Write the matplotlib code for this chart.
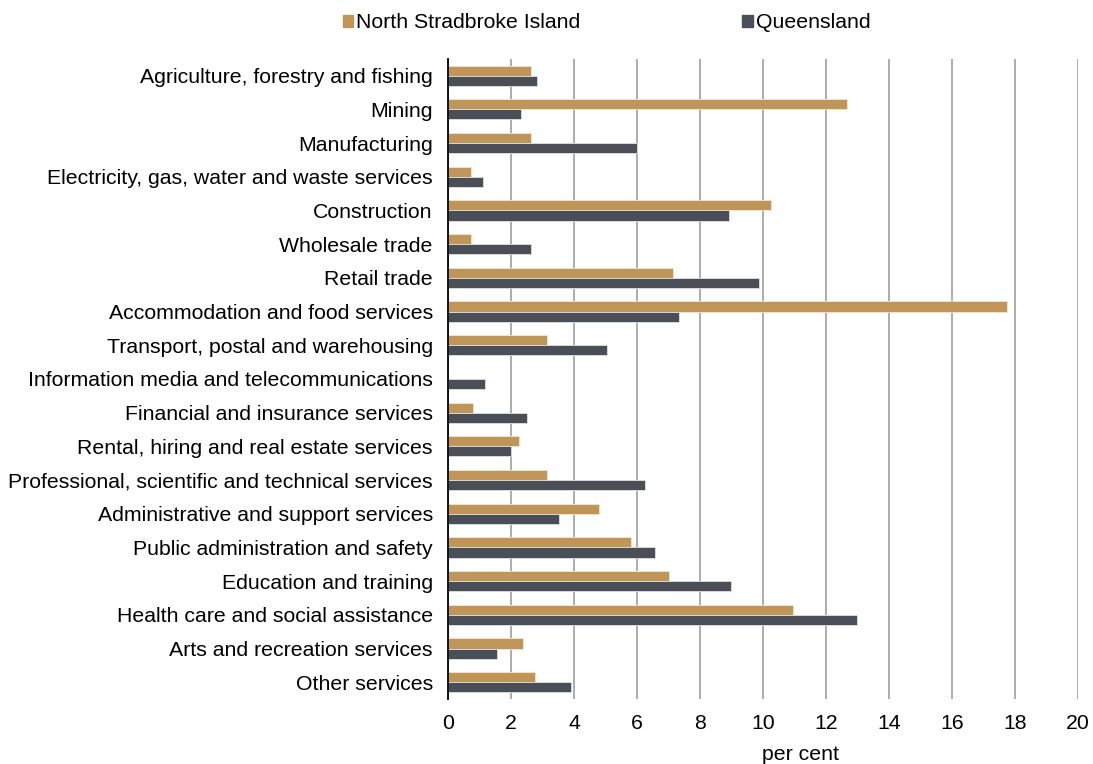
import matplotlib
matplotlib.use("Agg")
import matplotlib.pyplot as plt
import numpy as np
from matplotlib.patches import Patch

categories = [
    "Agriculture, forestry and fishing", "Mining", "Manufacturing",
    "Electricity, gas, water and waste services", "Construction", "Wholesale trade",
    "Retail trade", "Accommodation and food services", "Transport, postal and warehousing",
    "Information media and telecommunications", "Financial and insurance services",
    "Rental, hiring and real estate services", "Professional, scientific and technical services",
    "Administrative and support services", "Public administration and safety",
    "Education and training", "Health care and social assistance",
    "Arts and recreation services", "Other services",
]
nsi = [2.63, 12.67, 2.63, 0.73, 10.25, 0.73, 7.14, 17.76, 3.14, 0.0, 0.79, 2.25,
       3.14, 4.79, 5.81, 7.02, 10.95, 2.38, 2.76]
qld = [2.83, 2.32, 6.0, 1.11, 8.92, 2.63, 9.87, 7.33, 5.05, 1.17, 2.51, 2.0,
       6.25, 3.52, 6.57, 8.98, 12.98, 1.56, 3.9]
xticks = [0, 2, 4, 6, 8, 10, 12, 14, 16, 18, 20]

plt.rcParams['font.family'] = ['Liberation Sans', 'DejaVu Sans']
c_nsi = '#BF9558'
c_qld = '#4A4F57'
fs = 15.3

fig = plt.figure(figsize=(10.93, 7.64), dpi=100)
ax = fig.add_axes([0.41, 0.085, 0.576, 0.838])
y = np.arange(len(categories))
h = 0.3
ax.barh(y - h/2, nsi, height=h, color=c_nsi, edgecolor='#F3E6D2', linewidth=0.6,
        label='North Stradbroke Island', zorder=3)
ax.barh(y + h/2, qld, height=h, color=c_qld, edgecolor='#E0E1E3', linewidth=0.6,
        label='Queensland', zorder=3)
ax.set_ylim(len(categories) - 0.5, -0.5)
ax.set_xlim(0, 20)
ax.set_xticks(xticks)
ax.set_yticks(y)
ax.set_yticklabels(categories, fontsize=fs)
ax.tick_params(axis='x', labelsize=fs, length=0, pad=11)
ax.tick_params(axis='y', length=0, pad=11)
ax.xaxis.grid(True, color='#A6A6A6', linewidth=1.3, zorder=0)
for s in ['top', 'right', 'bottom']:
    ax.spines[s].set_visible(False)
ax.spines['left'].set_color('black')
ax.spines['left'].set_linewidth(1.3)
ax.spines['left'].set_zorder(4)
ax.set_xlabel('per cent', fontsize=fs)
ax.xaxis.set_label_coords(0.559, -0.071)

handles = [Patch(color=c_nsi), Patch(color=c_qld)]
fig.legend(handles, ['North Stradbroke Island', 'Queensland'], loc='center',
           bbox_to_anchor=(0.555, 0.97), ncol=2, frameon=False, fontsize=fs,
           handlelength=0.5, handleheight=0.5, handletextpad=0.15, columnspacing=7.6)
fig.savefig('out.png', dpi=100)
